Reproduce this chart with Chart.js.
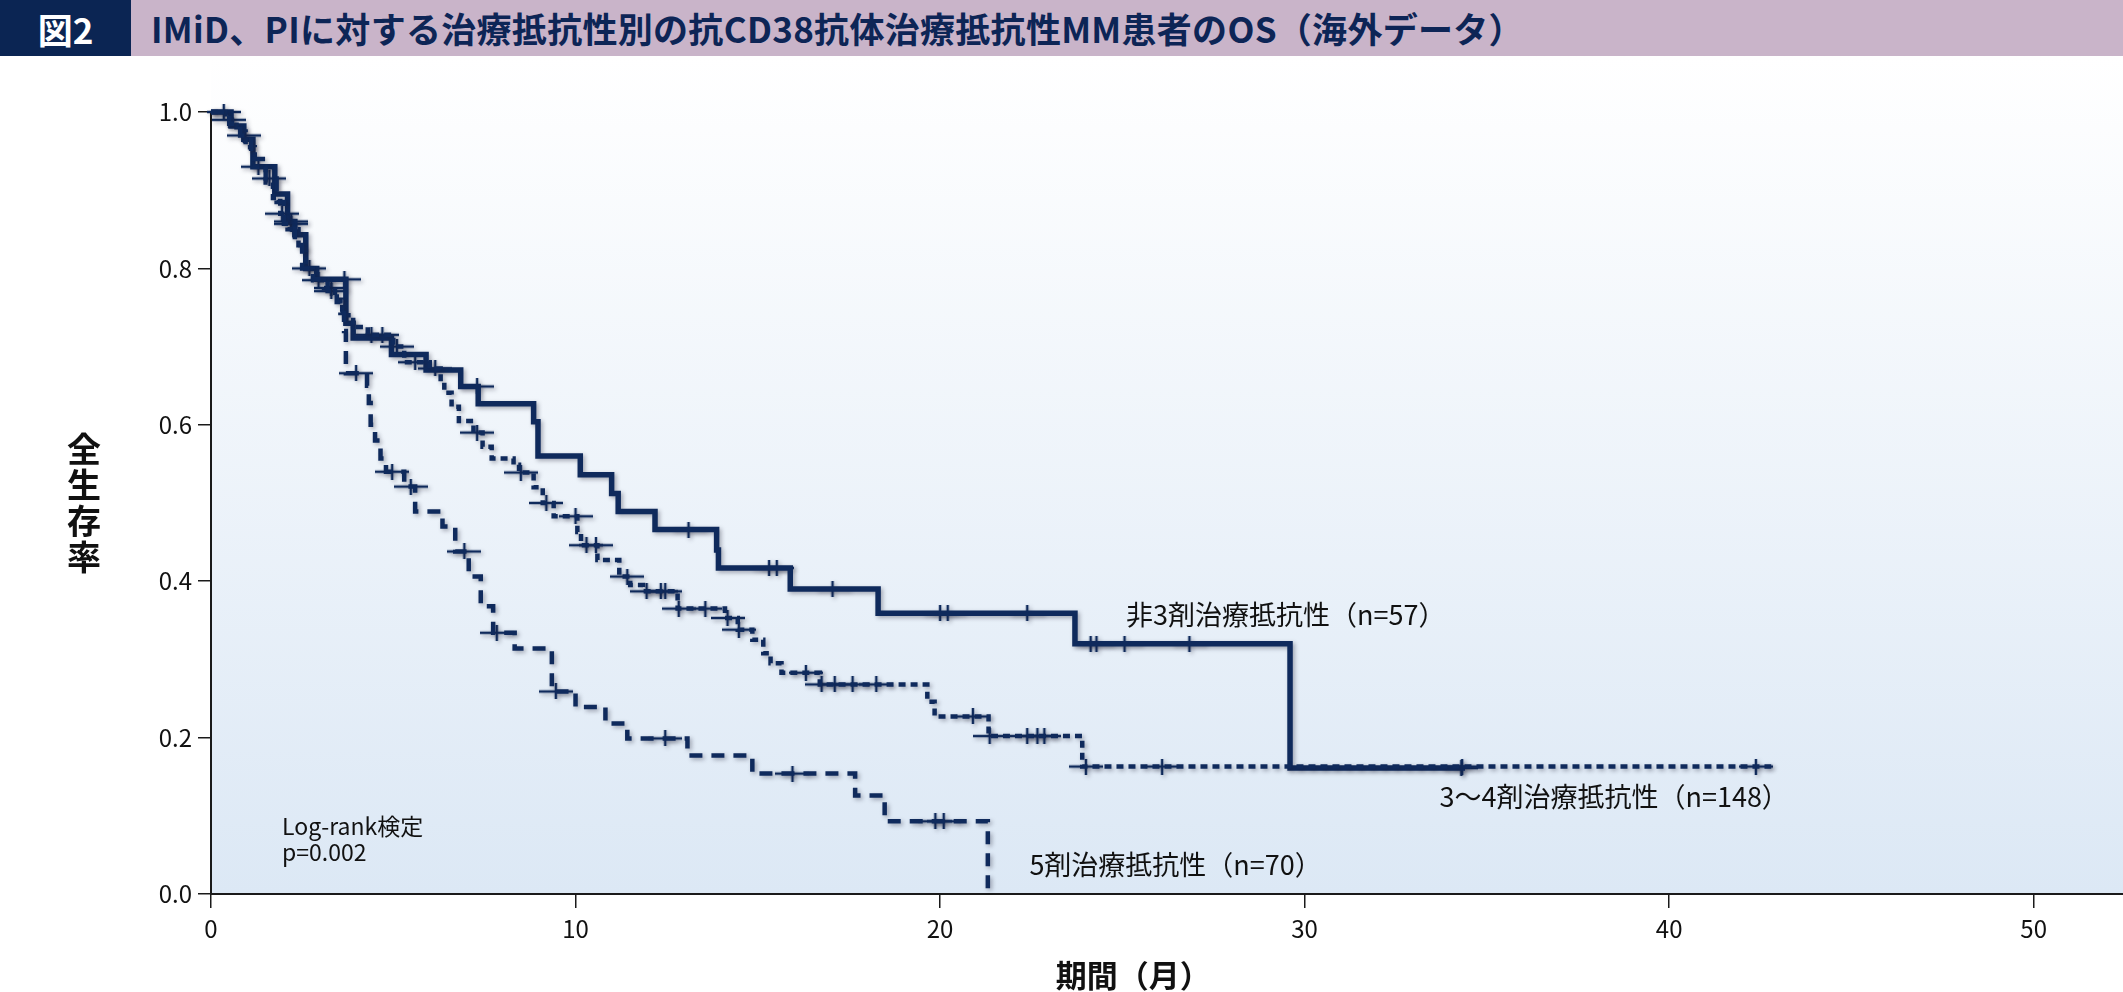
<!DOCTYPE html>
<html lang="ja">
<head>
<meta charset="utf-8">
<script src="https://cdn.jsdelivr.net/npm/chart.js@4.4.1/dist/chart.umd.min.js"></script>
<style>
  html, body { margin: 0; padding: 0; background: #fff; }
  body { width: 2123px; height: 992px; overflow: hidden; font-family: "Noto Sans CJK JP", "Noto Sans", sans-serif; }
  .header { display: flex; height: 56px; background: #c9b4c9; }
  .fig-no { width: 131px; background: #0b2553; color: #fff; font-weight: 700; font-size: 35px; display: flex; align-items: center; justify-content: center; }
  .title { color: #0d2556; font-weight: 700; font-size: 35px; letter-spacing: 0.3px; line-height: 56px; padding-left: 20px; white-space: nowrap; }
  .chart-box { position: relative; width: 2123px; height: 936px; }
</style>
</head>
<body>
<div class="header">
  <div class="fig-no">図2</div>
  <div class="title">IMiD、PIに対する治療抵抗性別の抗CD38抗体治療抵抗性MM患者のOS（海外データ）</div>
</div>
<div class="chart-box">
  <canvas id="osChart" width="2123" height="936"></canvas>
</div>
<script>
// 軸
const xTicks = [0, 10, 20, 30, 40, 50];
const yTicks = [0, 0.2, 0.4, 0.6, 0.8, 1.0];
const xTitle = "期間（月）";
const yTitle = "全生存率";

// 非3剤治療抵抗性 (n=57)
const non3Times = [0, 0.55, 0.9, 1.15, 1.75, 2.1, 2.3, 2.6, 2.9, 3.7, 3.9, 4.95, 5.9, 6.85, 7.33, 8.85, 8.97, 10.13, 10.99, 11.17, 12.18, 13.87, 13.92, 15.89, 18.3, 23.7, 29.6, 34.4];
const non3Surv = [1.0, 0.982, 0.965, 0.93, 0.895, 0.86, 0.843, 0.80, 0.786, 0.73, 0.711, 0.69, 0.67, 0.649, 0.627, 0.604, 0.56, 0.536, 0.512, 0.489, 0.466, 0.44, 0.417, 0.39, 0.359, 0.32, 0.161, 0.161];
const non3Censor = [0.35, 2.2, 3.66, 7.3, 13.1, 15.31, 15.52, 17.05, 20.0, 20.21, 22.39, 24.13, 24.29, 25.06, 26.84, 34.3];

// 3〜4剤治療抵抗性 (n=148)
const r34Times = [0, 0.4, 0.7, 0.95, 1.2, 1.5, 1.7, 1.9, 2.1, 2.4, 2.6, 2.8, 3.1, 3.4, 3.6, 3.9, 4.3, 5.0, 5.3, 6.0, 6.3, 6.4, 6.6, 6.8, 7.2, 7.45, 7.7, 8.3, 8.45, 8.85, 9.1, 9.4, 10.05, 10.15, 10.6, 11.2, 11.5, 11.85, 12.8, 14.1, 14.45, 14.85, 15.15, 15.35, 15.65, 16.7, 19.65, 19.85, 21.33, 23.9, 42.8];
const r34Surv = [1.0, 0.99, 0.975, 0.955, 0.93, 0.91, 0.89, 0.87, 0.85, 0.825, 0.80, 0.785, 0.775, 0.76, 0.74, 0.725, 0.715, 0.70, 0.68, 0.672, 0.655, 0.641, 0.623, 0.605, 0.59, 0.572, 0.557, 0.549, 0.539, 0.52, 0.50, 0.483, 0.463, 0.446, 0.427, 0.406, 0.395, 0.387, 0.365, 0.353, 0.338, 0.325, 0.308, 0.295, 0.283, 0.268, 0.246, 0.227, 0.202, 0.163, 0.163];
const r34Censor = [0.5, 1.3, 1.95, 2.95, 3.3, 4.4, 4.7, 5.1, 5.6, 6.15, 7.3, 8.5, 9.2, 10.0, 10.3, 10.56, 11.42, 11.95, 12.34, 12.46, 12.83, 13.56, 14.17, 14.48, 16.32, 16.75, 17.11, 17.6, 18.25, 20.9, 21.36, 22.39, 22.67, 22.86, 24.0, 26.09, 34.32, 42.38];

// 5剤治療抵抗性 (n=70)
const r5Times = [0, 0.5, 0.8, 1.1, 1.5, 1.8, 2.0, 2.3, 2.5, 2.8, 3.2, 3.45, 3.55, 3.65, 3.7, 4.28, 4.33, 4.38, 4.5, 4.65, 4.8, 5.3, 5.6, 6.35, 6.7, 7.07, 7.4, 7.74, 8.33, 9.35, 10.0, 10.82, 11.42, 13.07, 14.85, 17.67, 18.48, 21.31];
const r5Surv = [1.0, 0.985, 0.97, 0.94, 0.915, 0.885, 0.857, 0.83, 0.80, 0.786, 0.771, 0.757, 0.743, 0.72, 0.666, 0.65, 0.628, 0.60, 0.58, 0.557, 0.54, 0.521, 0.489, 0.47, 0.438, 0.406, 0.368, 0.334, 0.314, 0.259, 0.239, 0.218, 0.199, 0.177, 0.154, 0.126, 0.093, 0.0];
const r5Censor = [0.9, 1.6, 2.2, 2.7, 3.3, 3.98, 4.97, 5.48, 6.95, 7.84, 9.46, 12.46, 15.95, 19.87, 20.1];

const curveNames = ["非3剤治療抵抗性（n=57）", "3〜4剤治療抵抗性（n=148）", "5剤治療抵抗性（n=70）"];
const testNotes = ["Log-rank検定", "p=0.002"];

const navy = "#0f2a5c";
const family = '"Noto Sans CJK JP", "Noto Sans", sans-serif';

// 打ち切りマーク (+)
function makeCensorMark() {
  const c = document.createElement("canvas");
  c.width = 34; c.height = 16;
  const g = c.getContext("2d");
  g.strokeStyle = navy; g.lineWidth = 2.5;
  g.beginPath();
  g.moveTo(0, 8); g.lineTo(34, 8);
  g.moveTo(17, 0); g.lineTo(17, 16);
  g.stroke();
  return c;
}
const censorMark = makeCensorMark();

const toPoints = (ts, ss) => ts.map((t, i) => ({ x: t, y: ss[i] }));
// 打ち切り時点の生存率は曲線の値を読む
function survAt(ts, ss, t) {
  let s = ss[0];
  for (let i = 0; i < ts.length; i++) { if (ts[i] <= t) s = ss[i]; }
  return s;
}
const censorPoints = (ts, ss, cs) => cs.map(t => ({ x: t, y: survAt(ts, ss, t) }));

function curve(ts, ss, width, dash) {
  return { data: toPoints(ts, ss), stepped: "before", borderColor: navy, borderWidth: width, borderDash: dash,
    borderCapStyle: "butt", pointRadius: 0, fill: false, clip: false };
}
function marks(ts, ss, cs) {
  return { data: censorPoints(ts, ss, cs), showLine: false, pointStyle: censorMark, pointRadius: 8, clip: false };
}

const datasets = [
  curve(r5Times, r5Surv, 4.5, [13, 9]),
  curve(r34Times, r34Surv, 4.5, [7, 5]),
  curve(non3Times, non3Surv, 5.5, []),
  marks(r5Times, r5Surv, r5Censor),
  marks(r34Times, r34Surv, r34Censor),
  marks(non3Times, non3Surv, non3Censor),
];

// 背景グラデーション
const bgPlugin = {
  id: "bg",
  beforeDraw(chart) {
    const { ctx, chartArea } = chart;
    const grad = ctx.createLinearGradient(0, 0, 0, chartArea.bottom);
    grad.addColorStop(0, "#ffffff");
    grad.addColorStop(1, "#dce8f5");
    ctx.save();
    ctx.fillStyle = grad;
    ctx.fillRect(chartArea.left, 0, chart.width - chartArea.left, chartArea.bottom);
    ctx.restore();
  }
};

const shadowPlugin = {
  id: "shadow",
  beforeDatasetDraw(chart) {
    const ctx = chart.ctx;
    ctx.save();
    ctx.shadowColor = "rgba(30,30,50,0.35)";
    ctx.shadowBlur = 4;
    ctx.shadowOffsetX = 2;
    ctx.shadowOffsetY = 2;
  },
  afterDatasetDraw(chart) { chart.ctx.restore(); }
};

// 軸タイトル・曲線ラベル
const textPlugin = {
  id: "texts",
  afterDraw(chart) {
    const { ctx, chartArea, scales: { x, y } } = chart;
    ctx.save();
    ctx.fillStyle = "#111";
    ctx.textAlign = "center";
    ctx.textBaseline = "middle";
    ctx.font = "700 34px " + family;
    const chars = [...yTitle];
    const cy = (chartArea.top + chartArea.bottom) / 2;
    chars.forEach((ch, i) => ctx.fillText(ch, 84, cy + (i - (chars.length - 1) / 2) * 36));
    ctx.font = "700 31px " + family;
    ctx.fillText(xTitle, x.getPixelForValue(25.3), chartArea.bottom + 81);

    ctx.textAlign = "left";
    ctx.font = "400 27px " + family;
    ctx.fillText(curveNames[0], x.getPixelForValue(25.1), y.getPixelForValue(0.357));
    ctx.fillText(curveNames[1], x.getPixelForValue(33.7), y.getPixelForValue(0.124));
    ctx.fillText(curveNames[2], x.getPixelForValue(22.45), y.getPixelForValue(0.037));
    ctx.font = "400 23px " + family;
    ctx.fillText(testNotes[0], x.getPixelForValue(1.95), y.getPixelForValue(0.086));
    ctx.fillText(testNotes[1], x.getPixelForValue(1.95), y.getPixelForValue(0.053));
    ctx.restore();
  }
};

const ctx = document.getElementById("osChart").getContext("2d");
const osChart = new Chart(ctx, {
  type: "line",
  data: { datasets },
  options: {
    responsive: false,
    animation: false,
    events: [],
    layout: { autoPadding: false, padding: { top: 56, right: 0, bottom: 0, left: 0 } },
    plugins: { legend: { display: false }, tooltip: { enabled: false } },
    scales: {
      x: {
        type: "linear", min: 0, max: 52.45,
        afterBuildTicks: ax => { ax.ticks = xTicks.map(v => ({ value: v })); },
        afterFit: ax => { ax.height = 98; ax.paddingLeft = 0; ax.paddingRight = 0; },
        border: { display: true, color: "#1a1a1a", width: 2 },
        grid: { drawOnChartArea: false, drawTicks: true, tickLength: 14, color: "#1a1a1a", lineWidth: 1.5 },
        ticks: { color: "#111", font: { size: 24, family }, padding: 6, maxRotation: 0 }
      },
      y: {
        type: "linear", min: 0, max: 1,
        afterBuildTicks: ax => { ax.ticks = yTicks.map(v => ({ value: v })); },
        afterFit: ax => { ax.width = 211; ax.paddingTop = 0; ax.paddingBottom = 0; },
        border: { display: true, color: "#1a1a1a", width: 2 },
        grid: { drawOnChartArea: false, drawTicks: true, tickLength: 13, color: "#1a1a1a", lineWidth: 1.5 },
        ticks: { color: "#111", font: { size: 24, family }, padding: 6, callback: v => v.toFixed(1) }
      }
    }
  },
  plugins: [bgPlugin, shadowPlugin, textPlugin]
});
</script>
</body>
</html>
